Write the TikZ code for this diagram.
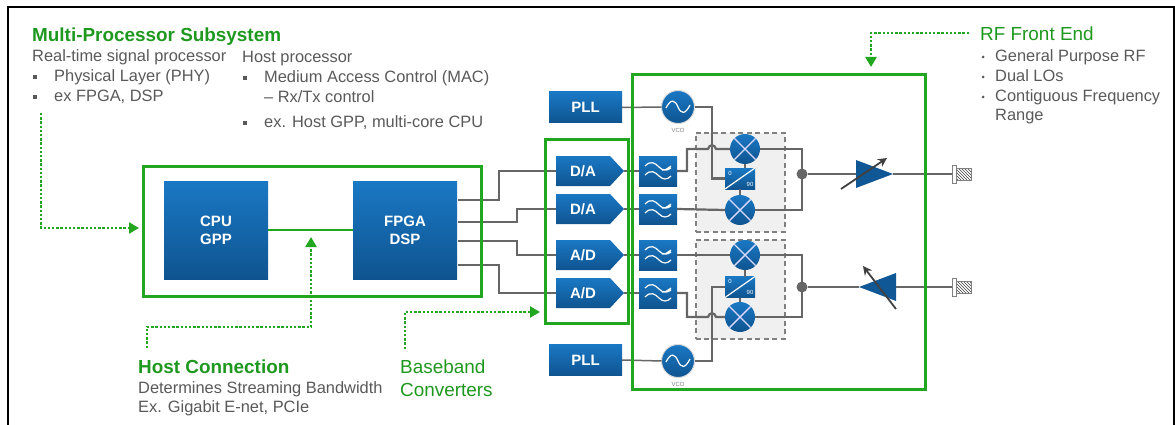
\documentclass[tikz,border=0pt]{standalone}
\usepackage{fontspec}
\setmainfont{Liberation Sans}
\usetikzlibrary{arrows.meta,shapes.geometric,shapes.symbols,patterns}
\definecolor{rfgreen}{HTML}{22A51F}
\definecolor{titlegreen}{HTML}{1E981E}
\definecolor{bluetop}{HTML}{1A78C4}
\definecolor{bluebottom}{HTML}{0F5490}
\definecolor{wiregray}{HTML}{666666}
\definecolor{textgray}{HTML}{595959}
\begin{document}
\begin{tikzpicture}[
x=1pt, y=-1pt,
blockfill/.style={top color=bluetop, bottom color=bluebottom, inner sep=0pt, outer sep=0pt},
cpubox/.style={rectangle, blockfill, minimum width=104, minimum height=98, text=white, align=center, font=\fontsize{15}{18}\selectfont\bfseries},
pllbox/.style={rectangle, blockfill, minimum width=73, minimum height=31, text=white, font=\fontsize{15}{18}\selectfont\bfseries},
converter/.style={signal, signal to=east, signal from=nowhere, signal pointer angle=94, blockfill, minimum width=68, minimum height=30, anchor=west, text=white, font=\fontsize{15}{18}\selectfont\bfseries},
lpfbox/.style={rectangle, blockfill, minimum width=38, minimum height=30, path picture={
    \draw[white, line width=1.2, shift={(path picture bounding box.center)}]
        (-13,-5) .. controls (-7,-11) and (-3,-8) .. (1,-4) .. controls (5,0) and (9,0) .. (13,-3)
        (-13,4) .. controls (-7,-2) and (-3,1) .. (1,5) .. controls (5,9) and (9,9) .. (13,5)
        (4,-1) .. controls (7,0) and (10,-3) .. (13,-5);}},
vcocirc/.style={circle, blockfill, draw=gray!30, line width=1, minimum size=33, path picture={
    \draw[white, line width=1.2, shift={(path picture bounding box.center)}]
        (-12,1) .. controls (-7,-9) and (-3,-7) .. (0,0) .. controls (3,7) and (7,8) .. (12,-2);}},
mixer/.style={circle, blockfill, minimum size=30, path picture={
    \draw[white!85!blue, line width=1.4]
        (path picture bounding box.north west) -- (path picture bounding box.south east)
        (path picture bounding box.north east) -- (path picture bounding box.south west);}},
splitter/.style={rectangle, blockfill, minimum width=30, minimum height=21, path picture={
    \draw[white, line width=1.2]
        (path picture bounding box.south west) -- (path picture bounding box.north east);}},
tinylabel/.style={text=white, inner sep=0pt, font=\fontsize{6}{6}\selectfont},
vcolabel/.style={text=gray, inner sep=0pt, font=\fontsize{6}{6}\selectfont},
iqarea/.style={rectangle, draw=gray, fill=black!6, dash pattern=on 5pt off 3.5pt, line width=1.8, minimum width=89, minimum height=99, anchor=north west},
amplifier/.style={isosceles triangle, isosceles triangle stretches, fill=bluebottom!90!bluetop, inner sep=0pt, outer sep=0pt, minimum width=28, minimum height=37, anchor=lower side},
flange/.style={rectangle, draw=gray, fill=white, line width=0.8, inner sep=0pt, minimum width=4, minimum height=18},
hatch/.style={rectangle, draw=gray, pattern=north west lines, pattern color=black!75, inner sep=0pt, minimum width=15, minimum height=12},
greenbox/.style={rectangle, draw=rfgreen, line width=3, inner sep=0pt, outer sep=0pt, anchor=north west},
thinwire/.style={draw=wiregray, line width=1.5},
rfwire/.style={draw=wiregray, line width=2.2},
junction/.style={circle, fill=wiregray, inner sep=0pt, minimum size=11},
tune/.style={-{Stealth[length=9pt,width=9pt]}, draw=black!75, line width=1.8},
callout/.style={draw=rfgreen, line width=2.6, dash pattern=on 2.4pt off 1.8pt, -{Triangle[length=10pt,width=11pt]}},
heading/.style={text=titlegreen, inner sep=0pt, anchor=base west, font=\fontsize{18.9}{20}\selectfont\bfseries},
subheading/.style={text=titlegreen, inner sep=0pt, anchor=base west, font=\fontsize{18.9}{20}\selectfont},
note/.style={text=textgray, inner sep=0pt, anchor=base west, font=\fontsize{16.4}{18}\selectfont},
squarebullet/.style={rectangle, fill=textgray, inner sep=0pt, minimum size=3.5},
dotbullet/.style={circle, fill=textgray, inner sep=0pt, minimum size=3},
]
\useasboundingbox (0,0) rectangle (1175,425);
\draw[line width=2.4, black] (8,425) -- (8,7) -- (1174,7) -- (1174,425);

\node (multititle) [heading] at (32,42) {Multi-Processor Subsystem};
\node (realtime) [note] at (32,62) {Real-time signal processor};
\node (phy) [note] at (54,82) {Physical Layer (PHY)};
\node (fpgaex) [note] at (54,102) {ex FPGA, DSP};
\node (bulletphy) [squarebullet] at (35,77) {};
\node (bulletfpga) [squarebullet] at (35,97) {};
\node (hostproc) [note] at (242,63) {Host processor};
\node (mac) [note] at (264,83) {Medium Access Control (MAC)};
\node (rxtx) [note] at (264,103) {-- Rx/Tx control};
\node (hostex) [note] at (264,128) {ex. Host GPP, multi-core CPU};
\node (bulletmac) [squarebullet] at (245,78) {};
\node (bullethost) [squarebullet] at (245,123) {};

\node (rftitle) [subheading] at (980,41) {RF Front End};
\node (generalrf) [note] at (995,62) {General Purpose RF};
\node (duallos) [note] at (995,82) {Dual LOs};
\node (contig) [note] at (995,102) {Contiguous Frequency};
\node (range) [note] at (995,121) {Range};
\node (bulletrf) [dotbullet] at (983,57) {};
\node (bulletlos) [dotbullet] at (983,77) {};
\node (bulletcontig) [dotbullet] at (983,97) {};

\node (hosttitle) [heading] at (138,373) {Host Connection};
\node (streaming) [note] at (138,393) {Determines Streaming Bandwidth};
\node (gigabit) [note] at (138,412) {Ex. Gigabit E-net, PCIe};
\node (basebandtitle) [subheading] at (400,373) {Baseband};
\node (converterstitle) [subheading] at (400,396) {Converters};

\node (cpu) [cpubox] at (216,230) {CPU\\GPP};
\node (fpga) [cpubox] at (405,230) {FPGA\\DSP};

\node (dacA) [converter] at (556,171) {D/A};
\node (dacB) [converter] at (556,209) {D/A};
\node (adcA) [converter] at (556,255) {A/D};
\node (adcB) [converter] at (556,293) {A/D};
\node (lpfA) [lpfbox] at (658,171) {};
\node (lpfB) [lpfbox] at (658,209) {};
\node (lpfC) [lpfbox] at (658,255) {};
\node (lpfD) [lpfbox] at (658,293) {};
\node (pllA) [pllbox] at (585.5,107.5) {PLL};
\node (pllB) [pllbox] at (585.5,360) {PLL};
\node (vcoA) [vcocirc] at (678,107) {};
\node (vcoB) [vcocirc] at (678,361) {};
\node (vcoAlabel) [vcolabel] at (678,130) {VCO};
\node (vcoBlabel) [vcolabel] at (678,384) {VCO};

\node (iqA) [iqarea] at (695,132) {};
\node (iqB) [iqarea] at (695,239) {};
\node (mixA) [mixer] at (745,149) {};
\node (mixB) [mixer] at (740,210) {};
\node (mixC) [mixer] at (745,255) {};
\node (mixD) [mixer] at (740,317) {};
\node (splitA) [splitter] at (740,178.5) {};
\node (splitB) [splitter] at (740,287) {};
\node (zeroA) [tinylabel] at (730,173) {0};
\node (ninetyA) [tinylabel] at (750,184) {90};
\node (zeroB) [tinylabel] at (730,281) {0};
\node (ninetyB) [tinylabel] at (750,292) {90};
\node (dotA) [junction] at (802,174) {};
\node (dotB) [junction] at (802,287) {};
\node (ampA) [amplifier] at (856,174) {};
\node (ampB) [amplifier, shape border rotate=180] at (896,287) {};
\node (flangeA) [flange] at (954,174) {};
\node (flangeB) [flange] at (954,287) {};
\node (hatchA) [hatch, anchor=west] at (956,174) {};
\node (hatchB) [hatch, anchor=west] at (956,287) {};

\coordinate (fpgaA) at (458,200);
\coordinate (fpgaB) at (458,222);
\coordinate (fpgaC) at (458,241);
\coordinate (fpgaD) at (458,265);

\draw[thinwire] (fpgaA) -- (499,200) |- (dacA.west);
\draw[thinwire] (fpgaB) -- (517,222) |- (dacB.west);
\draw[thinwire] (fpgaC) -- (517,241) |- (adcA.west);
\draw[thinwire] (fpgaD) -- (499,265) |- (adcB.west);
\draw[thinwire] (dacA.east) -- (lpfA.west);
\draw[thinwire] (dacB.east) -- (lpfB.west);
\draw[thinwire] (adcA.east) -- (lpfC.west);
\draw[thinwire] (adcB.east) -- (lpfD.west);
\draw[thinwire] (pllA.east) -- (vcoA.west);
\draw[thinwire] (pllB.east) -- (vcoB.west);

\draw[rfwire] (vcoA.east) -- (712,107) |- (splitA.west);
\draw[rfwire] (vcoB.east) -- (712,361) |- (splitB.west);
\draw[rfwire] (lpfA.east) -- (687,171) |- (708,149) .. controls (709,144) and (715,144) .. (716,149) -- (mixA.west);
\draw[rfwire] (lpfB.east) -- (mixB.west);
\draw[rfwire] (lpfC.east) -- (mixC.west);
\draw[rfwire] (lpfD.east) -- (687,293) |- (708,317) .. controls (709,312) and (715,312) .. (716,317) -- (mixD.west);
\draw[rfwire] (mixA.east) -| (dotA.center) |- (mixB.east);
\draw[rfwire] (mixC.east) -| (dotB.center) |- (mixD.east);
\draw[rfwire] (mixA.south) -- (mixA.south |- splitA.north);
\draw[rfwire] (mixB.north) -- (splitA.south);
\draw[rfwire] (mixC.south) -- (mixC.south |- splitB.north);
\draw[rfwire] (mixD.north) -- (splitB.south);
\draw[thinwire] (dotA) -- (ampA.lower side);
\draw[thinwire] (dotB) -- (ampB.apex);
\draw[thinwire] (ampA.apex) -- (flangeA.west);
\draw[thinwire] (ampB.lower side) -- (flangeB.west);

\coordinate (tuneAfrom) at (841,189);
\coordinate (tuneAto) at (887,158);
\coordinate (tuneBfrom) at (896,309);
\coordinate (tuneBto) at (863,266);
\draw[tune] (tuneAfrom) -- (tuneAto);
\draw[tune] (tuneBfrom) -- (tuneBto);

\draw[draw=rfgreen, line width=1.8] (cpu.east) -- (fpga.west);

\node (mpsbox) [greenbox, minimum width=338, minimum height=130] at (143,166.5) {};
\node (basebandbox) [greenbox, minimum width=83, minimum height=183] at (545,140) {};
\node (rfbox) [greenbox, minimum width=293, minimum height=314] at (632,75) {};

\coordinate (multistart) at (41,113);
\coordinate (multitip) at (139,228);
\coordinate (linktip) at (311,237);
\coordinate (hoststart) at (147,348);
\coordinate (hostbend) at (311,327);
\coordinate (basebandstart) at (405,349);
\coordinate (basebandtip) at (540,312);
\coordinate (rfstart) at (969,33);
\coordinate (rftip) at (871,67);
\draw[callout] (multistart) |- (multitip);
\draw[callout] (hoststart) |- (hostbend) -- (linktip);
\draw[callout] (basebandstart) |- (basebandtip);
\draw[callout] (rfstart) -| (rftip);
\end{tikzpicture}
\end{document}
